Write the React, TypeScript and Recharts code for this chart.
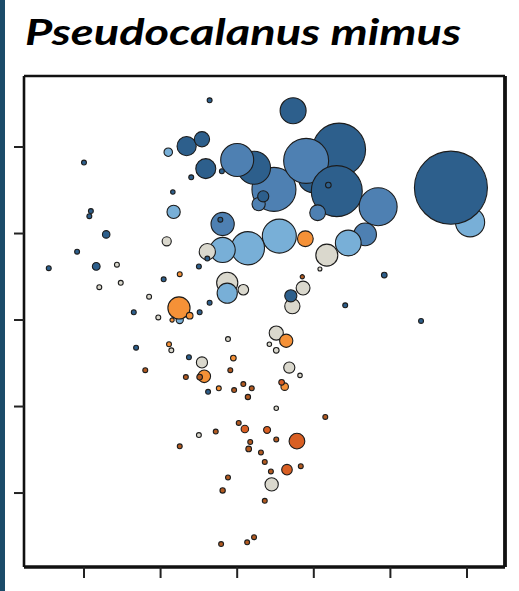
import React from 'react';
import { ScatterChart, Scatter, XAxis, YAxis, ZAxis, ReferenceLine } from 'recharts';

// axis ticks (unlabelled in the reference) and domains
const xTicks = [1, 2, 3, 4, 5, 6];
const yTicks = [1, 2, 3, 4, 5];
const xDomain: [number, number] = [0.217, 6.496];
const yDomain: [number, number] = [0.145, 5.821];
const zDomain: [number, number] = [0, 1369];

// bubbles, grouped by colour class and drawing layer (back -> front)
const lightBlueBack = [{ x: 6.04, y: 4.13, z: 213 }];
const midBlueBack = [{ x: 3.48, y: 4.51, z: 484 }];
const darkBlueBack = [
  { x: 3.22, y: 4.76, z: 272 },
  { x: 3.99, y: 4.64, z: 210 },
  { x: 4.33, y: 4.97, z: 702 },
];
const midBlueMid = [
  { x: 3.0, y: 4.85, z: 272 },
  { x: 3.9, y: 4.84, z: 506 },
];
const darkBlueMid = [
  { x: 4.3, y: 4.49, z: 650 },
  { x: 5.79, y: 4.53, z: 1332 },
];
const midBlueFront = [
  { x: 4.84, y: 4.31, z: 361 },
  { x: 4.67, y: 3.99, z: 128 },
  { x: 4.05, y: 4.24, z: 62 },
  { x: 2.81, y: 4.11, z: 135 },
  { x: 3.28, y: 4.34, z: 44 },
];
const greyBack = [{ x: 2.87, y: 3.43, z: 112 }];
const lightBlue = [
  { x: 2.1, y: 4.94, z: 18 },
  { x: 2.17, y: 4.25, z: 44 },
  { x: 3.55, y: 3.97, z: 289 },
  { x: 3.14, y: 3.83, z: 276 },
  { x: 2.81, y: 3.81, z: 159 },
  { x: 4.45, y: 3.89, z: 166 },
  { x: 2.87, y: 3.31, z: 102 },
  { x: 2.25, y: 3.0, z: 13 },
];
const grey = [
  { x: 2.08, y: 3.91, z: 21 },
  { x: 2.61, y: 3.79, z: 66 },
  { x: 3.08, y: 3.35, z: 28 },
  { x: 4.17, y: 3.75, z: 121 },
  { x: 4.08, y: 3.59, z: 4 },
  { x: 3.86, y: 3.37, z: 48 },
  { x: 3.72, y: 3.16, z: 58 },
  { x: 1.97, y: 3.03, z: 6 },
  { x: 1.43, y: 3.64, z: 6 },
  { x: 1.48, y: 3.43, z: 6 },
  { x: 1.2, y: 3.38, z: 6 },
  { x: 1.85, y: 3.27, z: 6 },
  { x: 2.14, y: 2.65, z: 6 },
  { x: 2.54, y: 2.51, z: 31 },
  { x: 2.88, y: 2.78, z: 6 },
  { x: 3.51, y: 2.85, z: 50 },
  { x: 3.42, y: 2.72, z: 5 },
  { x: 3.51, y: 2.65, z: 8 },
  { x: 3.68, y: 2.45, z: 31 },
  { x: 3.82, y: 2.36, z: 5 },
  { x: 3.51, y: 1.98, z: 5 },
  { x: 2.5, y: 1.67, z: 6 },
  { x: 3.45, y: 1.1, z: 44 },
];
const darkBlue = [
  { x: 2.64, y: 5.54, z: 6 },
  { x: 3.73, y: 5.42, z: 169 },
  { x: 2.34, y: 5.01, z: 92 },
  { x: 2.54, y: 5.09, z: 58 },
  { x: 2.59, y: 4.75, z: 100 },
  { x: 2.8, y: 4.72, z: 6 },
  { x: 2.4, y: 4.65, z: 6 },
  { x: 2.16, y: 4.48, z: 5 },
  { x: 3.34, y: 4.43, z: 31 },
  { x: 4.19, y: 4.56, z: 8 },
  { x: 2.78, y: 4.16, z: 6 },
  { x: 2.61, y: 3.71, z: 6 },
  { x: 2.5, y: 3.62, z: 6 },
  { x: 2.04, y: 3.47, z: 6 },
  { x: 2.64, y: 3.2, z: 6 },
  { x: 2.51, y: 3.09, z: 6 },
  { x: 1.65, y: 3.09, z: 6 },
  { x: 1.0, y: 4.82, z: 6 },
  { x: 1.09, y: 4.26, z: 6 },
  { x: 1.07, y: 4.2, z: 6 },
  { x: 1.29, y: 3.99, z: 14 },
  { x: 1.16, y: 3.62, z: 15 },
  { x: 0.54, y: 3.6, z: 6 },
  { x: 0.91, y: 3.79, z: 6 },
  { x: 3.7, y: 3.28, z: 37 },
  { x: 4.41, y: 3.17, z: 6 },
  { x: 5.4, y: 2.99, z: 6 },
  { x: 4.92, y: 3.52, z: 8 },
  { x: 1.68, y: 2.68, z: 6 },
  { x: 2.37, y: 2.57, z: 6 },
  { x: 2.62, y: 2.17, z: 6 },
];
const orange = [
  { x: 3.89, y: 3.94, z: 62 },
  { x: 2.24, y: 3.14, z: 123 },
  { x: 2.38, y: 3.05, z: 11 },
  { x: 2.25, y: 3.53, z: 6 },
  { x: 2.15, y: 3.0, z: 4.5 },
  { x: 2.11, y: 2.72, z: 6 },
  { x: 2.57, y: 2.35, z: 40 },
  { x: 2.95, y: 2.56, z: 8 },
  { x: 3.64, y: 2.76, z: 44 },
  { x: 3.62, y: 2.23, z: 14 },
  { x: 2.76, y: 2.21, z: 6 },
];
const darkOrange = [
  { x: 3.1, y: 1.74, z: 14 },
  { x: 3.39, y: 1.73, z: 12 },
  { x: 3.78, y: 1.6, z: 62 },
  { x: 3.65, y: 1.27, z: 28 },
  { x: 3.58, y: 2.28, z: 8 },
];
const brown = [
  { x: 3.85, y: 3.5, z: 4.5 },
  { x: 1.8, y: 2.42, z: 6 },
  { x: 2.51, y: 2.34, z: 8 },
  { x: 2.33, y: 2.34, z: 6 },
  { x: 2.91, y: 2.42, z: 6 },
  { x: 2.96, y: 2.19, z: 6 },
  { x: 3.08, y: 2.26, z: 6 },
  { x: 3.19, y: 2.21, z: 6 },
  { x: 3.14, y: 2.11, z: 7 },
  { x: 3.02, y: 1.81, z: 6 },
  { x: 2.72, y: 1.71, z: 6 },
  { x: 2.25, y: 1.54, z: 6 },
  { x: 3.17, y: 1.59, z: 6 },
  { x: 3.15, y: 1.51, z: 8 },
  { x: 3.31, y: 1.47, z: 6 },
  { x: 3.36, y: 1.36, z: 6 },
  { x: 3.44, y: 1.25, z: 6 },
  { x: 3.51, y: 1.62, z: 6 },
  { x: 3.83, y: 1.31, z: 6 },
  { x: 4.15, y: 1.88, z: 6 },
  { x: 2.88, y: 1.18, z: 6 },
  { x: 2.81, y: 1.03, z: 7 },
  { x: 3.36, y: 0.91, z: 6 },
  { x: 2.79, y: 0.41, z: 6 },
  { x: 3.13, y: 0.43, z: 6 },
  { x: 3.22, y: 0.49, z: 6 },
];

const C_DARK = '#2d5f8c';
const C_MID = '#4e80b2';
const C_LIGHT = '#78afd7';
const C_GREY = '#dad8cd';
const C_ORANGE = '#f59137';
const C_DORANGE = '#d95f23';
const C_BROWN = '#b25a21';

const layers = [
  { key: 'lbBack', data: lightBlueBack, fill: C_LIGHT },
  { key: 'mbBack', data: midBlueBack, fill: C_MID },
  { key: 'dbBack', data: darkBlueBack, fill: C_DARK },
  { key: 'mbMid', data: midBlueMid, fill: C_MID },
  { key: 'dbMid', data: darkBlueMid, fill: C_DARK },
  { key: 'mbFront', data: midBlueFront, fill: C_MID },
  { key: 'gBack', data: greyBack, fill: C_GREY },
  { key: 'lb', data: lightBlue, fill: C_LIGHT },
  { key: 'g', data: grey, fill: C_GREY },
  { key: 'db', data: darkBlue, fill: C_DARK },
  { key: 'or', data: orange, fill: C_ORANGE },
  { key: 'dor', data: darkOrange, fill: C_DORANGE },
  { key: 'br', data: brown, fill: C_BROWN },
];

const NoLabel = () => <g />;

export default function App() {
  return (
    <div style={{ position: 'absolute', left: 0, top: 0, width: 519, height: 591, background: '#fff', overflow: 'hidden' }}>
      <div style={{ position: 'absolute', left: 0, top: 0 }}>
        <ScatterChart width={519} height={591} margin={{ top: 76, right: 14, bottom: 0, left: 0 }}>
          <XAxis
            type="number"
            dataKey="x"
            domain={xDomain}
            ticks={xTicks}
            tick={NoLabel}
            tickSize={11}
            height={24}
            allowDataOverflow
            axisLine={{ stroke: '#111', strokeWidth: 3.5 }}
            tickLine={{ stroke: '#222', strokeWidth: 2 }}
          />
          <YAxis
            type="number"
            dataKey="y"
            domain={yDomain}
            ticks={yTicks}
            tick={NoLabel}
            tickSize={10}
            width={24}
            allowDataOverflow
            axisLine={{ stroke: '#111', strokeWidth: 2.6 }}
            tickLine={{ stroke: '#222', strokeWidth: 2 }}
          />
          <ZAxis type="number" dataKey="z" domain={zDomain} range={[0, Math.PI * 1369]} />
          {layers.map((l) => (
            <Scatter
              key={l.key}
              data={l.data}
              fill={l.fill}
              stroke="#1c1c1c"
              strokeWidth={1.1}
              shape="circle"
              isAnimationActive={false}
            />
          ))}
          <ReferenceLine y={yDomain[1]} stroke="#111" strokeWidth={2.6} />
          <ReferenceLine x={xDomain[1]} stroke="#111" strokeWidth={3.8} />
        </ScatterChart>
      </div>
      <div style={{ position: 'absolute', left: 0, top: 0, width: 5, height: 591, background: '#1b4b69' }} />
      <svg style={{ position: 'absolute', left: 0, top: 0 }} width={519} height={70}>
        <text
          x={25}
          y={45}
          fontFamily="Lato, 'Open Sans', sans-serif"
          fontWeight={700}
          fontStyle="italic"
          fontSize={36}
          textLength={436}
          lengthAdjust="spacingAndGlyphs"
          fill="#000"
        >
          Pseudocalanus mimus
        </text>
      </svg>
    </div>
  );
}
